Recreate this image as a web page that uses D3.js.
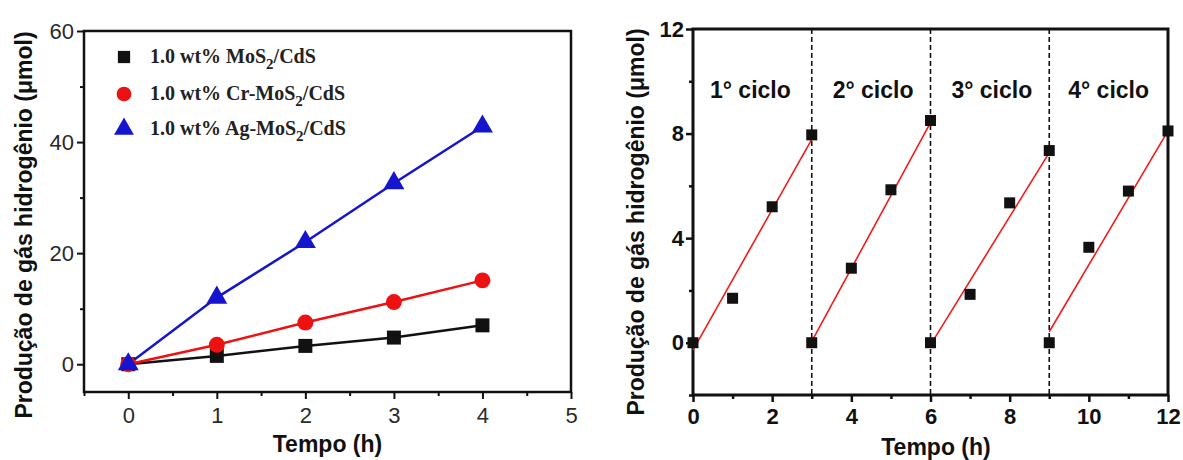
<!DOCTYPE html>
<html>
<head>
<meta charset="utf-8">
<script src="https://cdn.jsdelivr.net/npm/d3@7"></script>
<style>
  body { margin: 0; background: #fff; }
  svg { display: block; }
</style>
</head>
<body>
<svg id="chart" width="1183" height="460"></svg>
<script>
// ---- left panel data
var hours = [0, 1, 2, 3, 4];
var mosCds = [0, 1.5, 3.3, 4.8, 7.0];
var crMosCds = [0, 3.5, 7.5, 11.2, 15.1];
var agMosCds = [0, 12.0, 22.0, 32.6, 42.8];
var seriesNames = ["1.0 wt% MoS|2|/CdS", "1.0 wt% Cr-MoS|2|/CdS", "1.0 wt% Ag-MoS|2|/CdS"];
var xTicksLeft = [0, 1, 2, 3, 4, 5];
var yTicksLeft = [0, 20, 40, 60];

// ---- right panel data (cycles)
var cycleTime = [0, 1, 2, 3, 3, 4, 5, 6, 6, 7, 8, 9, 9, 10, 11, 12];
var cycleH2 = [0, 1.7, 5.2, 7.95, 0, 2.85, 5.85, 8.5, 0, 1.85, 5.35, 7.35, 0, 3.65, 5.8, 8.1];
var fitStart = [[0, -0.28], [3, 0.05], [6, -0.08], [9, 0.42]];
var fitEnd = [[3, 7.78], [6, 8.42], [9, 7.27], [12, 8.1]];
var cycleBreaks = [3, 6, 9];
var cycleLabels = ["1° ciclo", "2° ciclo", "3° ciclo", "4° ciclo"];
var cycleLabelX = [1.45, 4.55, 7.55, 10.5];
var xTicksRight = [0, 2, 4, 6, 8, 10, 12];
var yTicksRight = [0, 4, 8, 12];

var svg = d3.select("#chart");
var yTitle = "Produção de gás hidrogênio (μmol)";
var sans = "Arial, 'Liberation Sans', sans-serif";

// ================= left panel =================
var xL = d3.scaleLinear().domain([-0.5, 5]).range([84, 571]);
var yL = d3.scaleLinear().domain([-5, 60]).range([392, 31]);
var left = svg.append("g");

// frame
left.append("rect")
  .attr("x", xL(-0.5)).attr("y", yL(60))
  .attr("width", xL(5) - xL(-0.5)).attr("height", yL(-5) - yL(60))
  .attr("fill", "none").attr("stroke", "#111").attr("stroke-width", 2.5);

// minor ticks
left.append("g").attr("transform", "translate(0," + yL(-5) + ")")
  .call(d3.axisBottom(xL).tickValues(d3.range(-0.5, 5, 1)).tickSize(4).tickFormat(""))
  .call(function(g) { g.select(".domain").remove(); g.selectAll("line").attr("stroke-width", 2).attr("stroke", "#111"); });
left.append("g").attr("transform", "translate(" + xL(-0.5) + ",0)")
  .call(d3.axisLeft(yL).tickValues([10, 30, 50]).tickSize(4).tickFormat(""))
  .call(function(g) { g.select(".domain").remove(); g.selectAll("line").attr("stroke-width", 2).attr("stroke", "#111"); });

// major ticks
left.append("g").attr("transform", "translate(0," + yL(-5) + ")")
  .call(d3.axisBottom(xL).tickValues(xTicksLeft).tickSize(7).tickPadding(8).tickFormat(d3.format("d")))
  .call(function(g) {
    g.select(".domain").remove();
    g.selectAll("line").attr("stroke-width", 2).attr("stroke", "#111");
    g.selectAll("text").attr("font-family", sans).attr("font-size", 22).attr("fill", "#2a2a2a");
  });
left.append("g").attr("transform", "translate(" + xL(-0.5) + ",0)")
  .call(d3.axisLeft(yL).tickValues(yTicksLeft).tickSize(7).tickPadding(3).tickFormat(d3.format("d")))
  .call(function(g) {
    g.select(".domain").remove();
    g.selectAll("line").attr("stroke-width", 2).attr("stroke", "#111");
    g.selectAll("text").attr("font-family", sans).attr("font-size", 22).attr("fill", "#2a2a2a");
  });

// lines and markers
var colors = ["#111111", "#ee1111", "#1515d0"];
var allSeries = [mosCds, crMosCds, agMosCds];
var lineL = d3.line().x(function(d, i) { return xL(hours[i]); }).y(function(d) { return yL(d); });
var symbols = [d3.symbolSquare, d3.symbolCircle, d3.symbolTriangle];
var symSizes = [196, 200, 190];

allSeries.forEach(function(s, k) {
  left.append("path").datum(s).attr("d", lineL)
    .attr("fill", "none").attr("stroke", colors[k]).attr("stroke-width", 2.5);
});
allSeries.forEach(function(s, k) {
  left.selectAll(".m" + k).data(s).enter().append("path")
    .attr("transform", function(d, i) { return "translate(" + xL(hours[i]) + "," + yL(d) + ")"; })
    .attr("d", d3.symbol().type(symbols[k]).size(symSizes[k]))
    .attr("fill", colors[k]);
});

// legend
var legendY = [57, 94, 129];
seriesNames.forEach(function(name, k) {
  left.append("path")
    .attr("transform", "translate(124," + legendY[k] + ")")
    .attr("d", d3.symbol().type(symbols[k]).size(k == 0 ? 150 : 170))
    .attr("fill", colors[k]);
  var parts = name.split("|");
  var t = left.append("text")
    .attr("x", 150).attr("y", legendY[k] + 6)
    .attr("font-family", "'Times New Roman', 'Liberation Serif', serif")
    .attr("font-weight", "bold").attr("font-size", 20).attr("fill", "#222");
  t.append("tspan").text(parts[0]);
  t.append("tspan").attr("dy", 6).attr("font-size", 15).text(parts[1]);
  t.append("tspan").attr("dy", -6).text(parts[2]);
});

// titles
left.append("text")
  .attr("x", (xL(-0.5) + xL(5)) / 2).attr("y", 452)
  .attr("text-anchor", "middle")
  .attr("font-family", sans)
  .attr("font-weight", "bold").attr("font-size", 23).attr("fill", "#111")
  .text("Tempo (h)");
left.append("text")
  .attr("transform", "translate(32,225) rotate(-90)")
  .attr("text-anchor", "middle")
  .attr("font-family", sans)
  .attr("font-weight", "bold").attr("font-size", 23).attr("fill", "#111")
  .text(yTitle);

// ================= right panel =================
var xR = d3.scaleLinear().domain([0, 12]).range([693, 1168]);
var yR = d3.scaleLinear().domain([-2, 12]).range([395, 29]);
var right = svg.append("g");

right.append("rect")
  .attr("x", xR(0)).attr("y", yR(12))
  .attr("width", xR(12) - xR(0)).attr("height", yR(-2) - yR(12))
  .attr("fill", "none").attr("stroke", "#111").attr("stroke-width", 3);

// dashed cycle separators
right.selectAll(".sep").data(cycleBreaks).enter().append("line")
  .attr("x1", function(d) { return xR(d); }).attr("x2", function(d) { return xR(d); })
  .attr("y1", yR(12)).attr("y2", yR(-2))
  .attr("stroke", "#111").attr("stroke-width", 1.6).attr("stroke-dasharray", "5,3");

// minor ticks
right.append("g").attr("transform", "translate(0," + yR(-2) + ")")
  .call(d3.axisBottom(xR).tickValues(d3.range(1, 12, 2)).tickSize(4).tickFormat(""))
  .call(function(g) { g.select(".domain").remove(); g.selectAll("line").attr("stroke-width", 2.5).attr("stroke", "#111"); });
right.append("g").attr("transform", "translate(" + xR(0) + ",0)")
  .call(d3.axisLeft(yR).tickValues([-2, 2, 6, 10]).tickSize(4).tickFormat(""))
  .call(function(g) { g.select(".domain").remove(); g.selectAll("line").attr("stroke-width", 2.5).attr("stroke", "#111"); });

// major ticks
right.append("g").attr("transform", "translate(0," + yR(-2) + ")")
  .call(d3.axisBottom(xR).tickValues(xTicksRight).tickSize(7).tickPadding(6).tickFormat(d3.format("d")))
  .call(function(g) {
    g.select(".domain").remove();
    g.selectAll("line").attr("stroke-width", 2.5).attr("stroke", "#111");
    g.selectAll("text").attr("font-family", sans).attr("font-weight", "bold").attr("font-size", 22).attr("fill", "#111");
  });
right.append("g").attr("transform", "translate(" + xR(0) + ",0)")
  .call(d3.axisLeft(yR).tickValues(yTicksRight).tickSize(7).tickPadding(2).tickFormat(d3.format("d")))
  .call(function(g) {
    g.select(".domain").remove();
    g.selectAll("line").attr("stroke-width", 2.5).attr("stroke", "#111");
    g.selectAll("text").attr("font-family", sans).attr("font-weight", "bold").attr("font-size", 22).attr("fill", "#111");
  });

// fit lines
right.selectAll(".fit").data(fitStart).enter().append("line")
  .attr("x1", function(d) { return xR(d[0]); }).attr("y1", function(d) { return yR(d[1]); })
  .attr("x2", function(d, i) { return xR(fitEnd[i][0]); }).attr("y2", function(d, i) { return yR(fitEnd[i][1]); })
  .attr("stroke", "#ee1c1c").attr("stroke-width", 1.6);

// data points
right.selectAll(".pt").data(cycleH2).enter().append("rect")
  .attr("x", function(d, i) { return xR(cycleTime[i]) - 5.5; })
  .attr("y", function(d) { return yR(d) - 5.5; })
  .attr("width", 11).attr("height", 11)
  .attr("fill", "#111");

// cycle labels
right.selectAll(".cl").data(cycleLabels).enter().append("text")
  .attr("x", function(d, i) { return xR(cycleLabelX[i]); })
  .attr("y", 98)
  .attr("text-anchor", "middle")
  .attr("font-family", sans)
  .attr("font-weight", "bold").attr("font-size", 23).attr("fill", "#111")
  .text(function(d) { return d; });

// titles
right.append("text")
  .attr("x", 936).attr("y", 455)
  .attr("text-anchor", "middle")
  .attr("font-family", sans)
  .attr("font-weight", "bold").attr("font-size", 23).attr("fill", "#111")
  .text("Tempo (h)");
right.append("text")
  .attr("transform", "translate(644,222) rotate(-90)")
  .attr("text-anchor", "middle")
  .attr("font-family", sans)
  .attr("font-weight", "bold").attr("font-size", 23).attr("fill", "#111")
  .text(yTitle);
</script>
</body>
</html>
